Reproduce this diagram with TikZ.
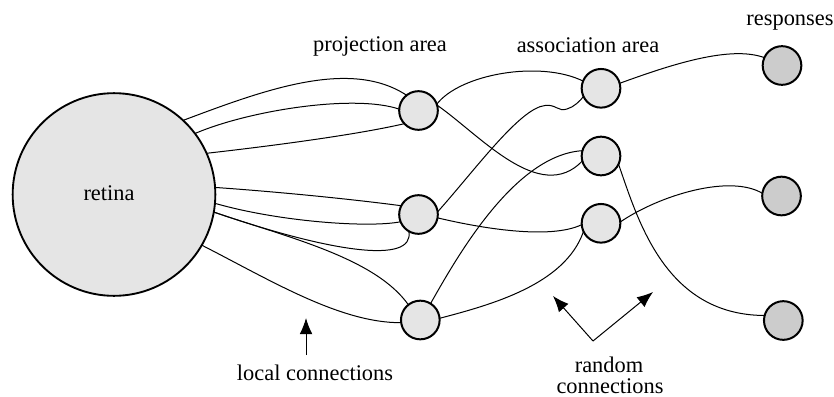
\documentclass[tikz,border=0pt]{standalone}
\usepackage{fontspec}
\setmainfont{Liberation Serif}
\usetikzlibrary{arrows.meta}
\definecolor{cellfill}{HTML}{E5E5E5}
\definecolor{respfill}{HTML}{CCCCCC}
\begin{document}
\begin{tikzpicture}[x=0.75pt,y=-0.75pt,
  cell/.style={circle,draw,line width=1.5pt,fill=cellfill,minimum size=29pt,inner sep=0pt,outer sep=0pt},
  resp/.style={cell,fill=respfill},
  conn/.style={line width=0.75pt},
  lbl/.style={anchor=base,inner sep=0pt,font=\fontsize{16.8}{20}\selectfont},
  pointer/.style={line width=0.75pt,-{Latex[length=12pt,width=9.5pt]}}]
\useasboundingbox (0,0) rectangle (834,396);
% nodes
\node[cell,minimum size=152pt,line width=1.4pt] (ret) at (114,194.5) {};
\node[lbl] (retlbl) at (109,200) {retina};
\node[cell] (p1) at (418.5,110.5) {};
\node[cell] (p2) at (418.5,214.5) {};
\node[cell] (p3) at (420.3,320) {};
\node[cell] (a1) at (601,88.3) {};
\node[cell] (a2) at (601,156) {};
\node[cell] (a3) at (601,223.3) {};
\node[resp] (r1) at (782,65.5) {};
\node[resp] (r2) at (781.5,196) {};
\node[resp] (r3) at (783.3,320.5) {};
% labels
\node[lbl] (projlbl) at (380,51) {projection area};
\node[lbl] (assoclbl) at (588,52) {association area};
\node[lbl] (resplbl) at (790,25) {responses};
\node[lbl] (locallbl) at (315,380) {local connections};
\node[lbl] (randlbl) at (609,372) {random};
\node[lbl] (connlbl) at (610,393) {connections};
% retina -> projection
\draw[conn] (ret.47.5) .. controls (264,90) and (350,58) .. (p1.128);
\draw[conn] (ret.37.4) .. controls (250,110) and (355,94) .. (p1.176);
\draw[conn] (ret.24.3) .. controls (280,145) and (360,134) .. (p1.223);
\draw[conn] (ret.4.4) .. controls (280,192) and (350,199) .. (p2.153);
\draw[conn] (ret.-5.9) .. controls (280,222) and (370,228) .. (p2.202);
\draw[conn] (ret.-10.7) .. controls (330,252) and (415,265) .. (p2.240);
\draw[conn] (ret.-10.7) .. controls (290,238) and (375,258) .. (p3.128);
\draw[conn] (ret.-30.5) .. controls (270,280) and (340,323) .. (p3.188);
% projection -> association
\draw[conn] (p1.19) .. controls (460,74) and (540,60) .. (a1.158);
\draw[conn] (p1.16) .. controls (480,135) and (540,205) .. (a2.195);
\draw[conn] (p2.8) .. controls (475,170) and (520,108) .. (545,105.5)
  .. controls (556,104) and (558,112) .. (567,109)
  .. controls (574,107) and (580,101) .. (a1.205);
\draw[conn] (p2.-10) .. controls (480,228) and (550,240) .. (a3.184);
\draw[conn] (p3.58) .. controls (458,255) and (515,155) .. (a2.164);
\draw[conn] (p3.5) .. controls (490,305) and (565,285) .. (a3.205);
% association -> responses
\draw[conn] (a1.15) .. controls (670,65) and (730,45) .. (r1.156.5);
\draw[conn] (a3.4) .. controls (660,195) and (730,174) .. (r2.172);
\draw[conn] (a2.-25) .. controls (638,220) and (665,315) .. (r3.165.7);
% pointers
\coordinate (localtail) at (306,355);
\coordinate (localtip) at (306,318);
\draw[pointer] (localtail) -- (localtip);
\coordinate (randv) at (593,341);
\coordinate (randl) at (553,296);
\coordinate (randr) at (653,292);
\draw[pointer] (randv) -- (randl);
\draw[pointer] (randv) -- (randr);
\end{tikzpicture}
\end{document}
